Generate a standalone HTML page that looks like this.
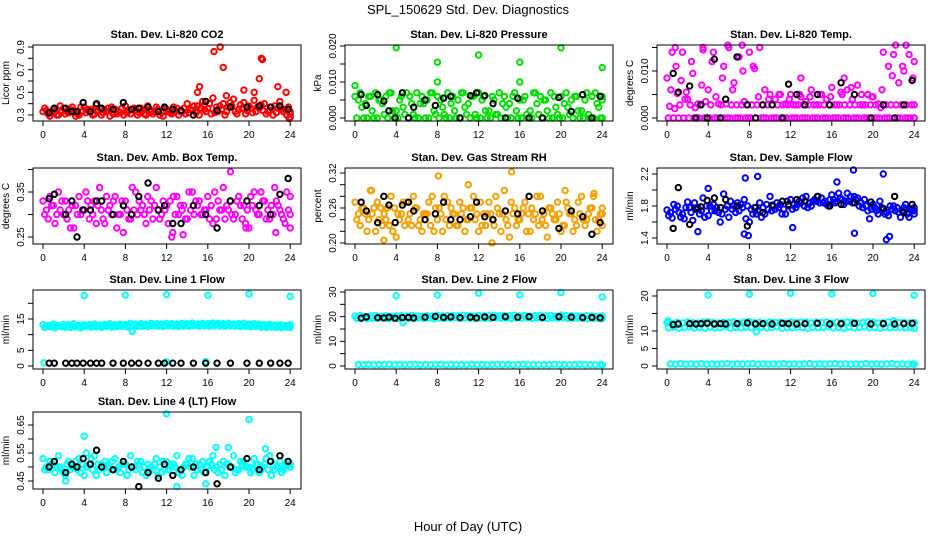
<!DOCTYPE html>
<html><head><meta charset="utf-8">
<style>
html,body{margin:0;padding:0;background:#fff;}
svg{display:block;font-family:"Liberation Sans",Arial,sans-serif;}
</style></head>
<body>
<svg id="chart" width="936" height="540" viewBox="0 0 936 540" xmlns="http://www.w3.org/2000/svg">
<rect width="936" height="540" fill="#fff"/>
<text x="468" y="14" text-anchor="middle" font-size="13">SPL_150629  Std. Dev. Diagnostics</text>
<text x="468" y="531" text-anchor="middle" font-size="13">Hour of Day (UTC)</text>
</svg>
<script>
const halfHours=[0,0.5,1,1.5,2,2.5,3,3.5,4,4.5,5,5.5,6,6.5,7,7.5,8,8.5,9,9.5,10,10.5,11,11.5,12,12.5,13,13.5,14,14.5,15,15.5,16,16.5,17,17.5,18,18.5,19,19.5,20,20.5,21,21.5,22,22.5,23,23.5,24];
const blackHours=[0.6,1.1,2.2,2.8,3.3,3.9,4.6,5.2,5.7,6.8,7.8,8.6,9.3,10.2,11.2,11.8,12.6,13.4,14.6,15.8,16.9,18.2,19.8,21.0,22.1,23.0,23.8];
const xTicks=[0,4,8,12,16,20,24];

// CO2
const co2A=[0.33,0.31,0.35,0.30,0.36,0.32,0.34,0.30,0.37,0.33,0.31,0.36,0.34,0.29,0.35,0.32,0.38,0.31,0.34,0.36,0.30,0.33,0.37,0.32,0.35,0.31,0.36,0.33,0.40,0.34,0.38,0.42,0.36,0.45,0.33,0.40,0.37,0.44,0.35,0.41,0.38,0.43,0.36,0.40,0.34,0.38,0.42,0.35,0.33];
const co2B=[0.36,0.29,0.33,0.38,0.31,0.35,0.29,0.37,0.32,0.35,0.39,0.30,0.33,0.37,0.31,0.36,0.32,0.35,0.30,0.34,0.38,0.31,0.35,0.29,0.33,0.37,0.30,0.36,0.32,0.38,0.30,0.35,0.40,0.32,0.38,0.30,0.41,0.33,0.39,0.31,0.36,0.33,0.39,0.31,0.37,0.32,0.35,0.30,0.28];
const co2C=[0.34,0.32,0.30,0.34,0.33,0.37,0.31,0.33,0.35,0.30,0.34,0.32,0.36,0.31,0.33,0.30,0.34,0.36,0.32,0.31,0.35,0.33,0.30,0.36,0.32,0.34,0.33,0.31,0.35,0.32,0.36,0.33,0.31,0.37,0.35,0.33,0.38,0.31,0.36,0.34,0.32,0.37,0.34,0.33,0.30,0.36,0.33,0.37,0.31];
const co2OutX=[15.2,15.0,16.6,17.2,17.5,17.8,19.5,20.5,21.0,21.2,21.3,22.8,23.6,23.9];
const co2OutY=[0.55,0.50,0.86,0.90,0.72,0.47,0.52,0.50,0.62,0.80,0.79,0.55,0.50,0.27];
const co2Black=[0.32,0.36,0.36,0.33,0.33,0.41,0.33,0.40,0.36,0.35,0.41,0.35,0.36,0.37,0.33,0.37,0.35,0.34,0.30,0.42,0.34,0.37,0.37,0.38,0.37,0.38,0.35];
// Pressure
const presA=[0.006,0.007,0.004,0.006,0.007,0.005,0.006,0.007,0.002,0.006,0.007,0.004,0.007,0.006,0.005,0.007,0.006,0.003,0.007,0.006,0.005,0.007,0.004,0.006,0.007,0.006,0.002,0.005,0.007,0.006,0.004,0.007,0.005,0.006,0.002,0.007,0.006,0.005,0.007,0.003,0.006,0.007,0.005,0.006,0.002,0.007,0.006,0.004,0.006];
const presB=[0,0.003,0,0.002,0,0.004,0,0.002,0,0.003,0,0.001,0,0.004,0,0.002,0,0.001,0,0.002,0,0.003,0,0.001,0,0.002,0,0.001,0,0.003,0,0.002,0,0.001,0,0.004,0,0.002,0,0.001,0,0.003,0,0.002,0,0.001,0,0.003,0];
const presC=[0.005,0,0.006,0,0.005,0.001,0.007,0,0.005,0.001,0.006,0,0.004,0,0.007,0.001,0.005,0,0.004,0,0.007,0.001,0.006,0,0.005,0,0.006,0.001,0.004,0,0.006,0,0.005,0,0.007,0.001,0.005,0,0.006,0,0.004,0.001,0.006,0,0.005,0,0.007,0,0.005];
const presOutX=[0,4,8,8,12,16,16,20,24];
const presOutY=[0.009,0.0195,0.0155,0.010,0.0175,0.0155,0.010,0.0195,0.014];
const presBlack=[0.0065,0.0035,0.0065,0.0047,0.0020,0.0000,0.0070,0.0000,0.0030,0.0050,0.0035,0.0055,0.0060,0.0000,0.0062,0.0070,0.0062,0.0040,0.0000,0.0055,0.0000,0.0000,0.0057,0.0018,0.0065,0.0000,0.0060];
// Li-820 temp
const tempA=[0.0085,0.0140,0.0052,0.0140,0.0040,0.0095,0.0030,0.0145,0.0060,0.0140,0.0030,0.0110,0.0150,0.0075,0.0130,0.0035,0.0140,0.0105,0.0150,0.0060,0.0050,0.0040,0.0050,0.0030,0.0050,0.0028,0.0045,0.0035,0.0060,0.0028,0.0050,0.0040,0.0065,0.0028,0.0050,0.0060,0.0040,0.0070,0.0028,0.0050,0.0045,0.0030,0.0140,0.0110,0.0135,0.0075,0.0100,0.0135,0.0120];
const tempZero=[0,0,0,0,0,0,0,0,0,0,0,0,0,0,0,0,0,0,0,0,0,0,0,0,0,0,0,0,0,0,0,0,0,0,0,0,0,0,0,0,0,0,0,0,0,0,0,0,0];
const tempBand=[0.0025,0.0020,0.0028,0.0040,0.0028,0.0022,0.0028,0.0035,0.0028,0.0045,0.0028,0.0030,0.0028,0.0028,0.0028,0.0028,0.0028,0.0028,0.0028,0.0028,0.0028,0.0028,0.0028,0.0028,0.0028,0.0028,0.0028,0.0028,0.0028,0.0028,0.0028,0.0028,0.0028,0.0028,0.0028,0.0028,0.0028,0.0028,0.0028,0.0028,0.0028,0.0022,0.0028,0.0028,0.0028,0.0028,0.0028,0.0028,0.0028];
const tempC=[0.0060,0.0110,0.0080,0.0055,0.0120,0.0000,0.0070,0.0000,0.0120,0.0000,0.0085,0.0000,0.0060,0.0000,0.0100,0.0000,0.0110,0.0045,0.0000,0.0040,0.0000,0.0050,0.0000,0.0040,0.0000,0.0050,0.0000,0.0045,0.0000,0.0050,0.0000,0.0045,0.0000,0.0055,0.0000,0.0065,0.0000,0.0050,0.0000,0.0045,0.0000,0.0060,0.0000,0.0090,0.0000,0.0110,0.0000,0.0085,0.0000];
const tempOutX=[5.9,7.3,13.0,17.2,22.2,23.2,0.8,3.5];
const tempOutY=[0.0155,0.0155,0.0085,0.0085,0.0155,0.0155,0.0150,0.0150];
const tempBlack=[0.0095,0.0055,0.0068,0.0000,0.0028,0.0000,0.0125,0.0000,0.0040,0.0130,0.0028,0.0000,0.0028,0.0028,0.0000,0.0072,0.0050,0.0028,0.0050,0.0028,0.0075,0.0050,0.0000,0.0028,0.0000,0.0028,0.0080];
// Amb box temp
const ambA=[0.33,0.29,0.32,0.35,0.30,0.31,0.27,0.34,0.31,0.29,0.33,0.36,0.28,0.32,0.34,0.30,0.33,0.29,0.35,0.31,0.28,0.33,0.36,0.30,0.32,0.25,0.34,0.31,0.29,0.35,0.32,0.30,0.34,0.28,0.33,0.36,0.31,0.29,0.34,0.32,0.27,0.35,0.30,0.33,0.29,0.36,0.31,0.28,0.34];
const ambB=[0.30,0.34,0.28,0.31,0.33,0.27,0.32,0.30,0.35,0.32,0.28,0.31,0.34,0.30,0.27,0.33,0.31,0.36,0.30,0.32,0.34,0.29,0.31,0.33,0.28,0.34,0.30,0.32,0.35,0.30,0.33,0.31,0.29,0.35,0.31,0.29,0.33,0.30,0.32,0.28,0.34,0.31,0.35,0.29,0.32,0.33,0.30,0.35,0.27];
const ambC=[0.31,0.32,0.30,0.33,0.29,0.32,0.30,0.31,0.33,0.30,0.32,0.29,0.31,0.33,0.30,0.32,0.29,0.31,0.33,0.30,0.31,0.32,0.29,0.31,0.33,0.30,0.32,0.29,0.31,0.33,0.30,0.31,0.32,0.29,0.31,0.32,0.30,0.33,0.29,0.31,0.32,0.30,0.33,0.31,0.30,0.32,0.29,0.31,0.30];
const ambOutX=[18.2,7.8,13.6,22.6,12.6,19.7];
const ambOutY=[0.395,0.26,0.255,0.26,0.26,0.27];
const ambBlack=[0.335,0.345,0.30,0.33,0.25,0.31,0.31,0.33,0.33,0.30,0.32,0.30,0.34,0.37,0.31,0.32,0.28,0.28,0.32,0.30,0.27,0.33,0.33,0.32,0.30,0.345,0.38];
// Gas stream RH
const rhA=[0.27,0.23,0.25,0.29,0.22,0.26,0.24,0.28,0.21,0.25,0.27,0.23,0.26,0.22,0.25,0.28,0.24,0.22,0.27,0.25,0.23,0.26,0.24,0.28,0.22,0.25,0.27,0.23,0.25,0.29,0.21,0.26,0.24,0.27,0.22,0.25,0.28,0.23,0.26,0.24,0.22,0.27,0.25,0.23,0.28,0.24,0.26,0.22,0.25];
const rhB=[0.24,0.26,0.22,0.25,0.27,0.23,0.26,0.22,0.25,0.27,0.24,0.28,0.23,0.25,0.27,0.22,0.26,0.28,0.23,0.25,0.27,0.22,0.26,0.24,0.27,0.23,0.25,0.28,0.22,0.24,0.27,0.23,0.25,0.22,0.26,0.28,0.24,0.21,0.25,0.27,0.23,0.26,0.22,0.27,0.24,0.25,0.28,0.24,0.26];
const rhC=[0.25,0.26,0.24,0.26,0.24,0.25,0.23,0.26,0.24,0.23,0.25,0.26,0.24,0.25,0.23,0.26,0.25,0.24,0.26,0.23,0.25,0.24,0.26,0.25,0.23,0.25,0.24,0.26,0.25,0.23,0.25,0.24,0.26,0.25,0.24,0.23,0.25,0.26,0.24,0.25,0.23,0.25,0.24,0.25,0.23,0.26,0.24,0.25,0.23];
const rhOutX=[8.1,11.0,15.2,1.6,20.4,23.2,13.3,2.8];
const rhOutY=[0.315,0.30,0.322,0.29,0.29,0.285,0.20,0.205];
const rhBlack=[0.27,0.255,0.235,0.28,0.265,0.235,0.265,0.27,0.255,0.24,0.25,0.27,0.24,0.24,0.245,0.27,0.245,0.24,0.255,0.25,0.28,0.255,0.225,0.255,0.245,0.215,0.235];
// Sample flow
const flowA=[1.75,1.65,1.80,1.70,1.85,1.62,1.78,1.90,1.68,1.82,1.72,1.95,1.66,1.80,1.74,1.88,1.60,1.78,1.84,1.70,1.92,1.76,1.82,1.70,1.88,1.78,1.84,1.92,1.80,1.86,1.90,1.82,1.94,1.86,1.88,1.96,1.84,1.90,1.78,1.74,1.82,1.70,1.76,1.68,1.80,1.72,1.78,1.66,1.74];
const flowB=[1.68,1.82,1.72,1.64,1.78,1.84,1.70,1.66,1.80,1.74,1.60,1.76,1.86,1.72,1.82,1.64,1.76,1.70,1.66,1.82,1.74,1.84,1.70,1.86,1.76,1.82,1.90,1.78,1.86,1.92,1.84,1.80,1.88,1.96,1.82,1.86,1.92,1.80,1.88,1.64,1.78,1.86,1.70,1.80,1.74,1.66,1.82,1.76,1.70];
const flowC=[1.72,1.76,1.66,1.78,1.72,1.76,1.74,1.80,1.74,1.78,1.70,1.80,1.76,1.84,1.78,1.80,1.70,1.74,1.78,1.76,1.80,1.78,1.76,1.80,1.82,1.86,1.80,1.84,1.88,1.84,1.86,1.88,1.84,1.90,1.86,1.92,1.88,1.84,1.80,1.76,1.74,1.78,1.72,1.76,1.78,1.74,1.70,1.76,1.78];
const flowOutX=[3.0,7.5,7.6,8.8,18.1,18.2,21.0,21.3,7.9,21.6,16.5,4.0,12.2];
const flowOutY=[1.48,1.45,2.15,2.17,2.25,1.46,2.20,1.38,1.43,1.42,2.10,2.02,1.53];
const flowBlack=[1.52,2.03,1.57,1.77,1.79,1.87,1.90,1.78,1.88,1.80,1.55,1.78,1.72,1.81,1.86,1.82,1.88,1.86,1.92,1.80,1.82,1.84,1.85,1.77,1.92,1.72,1.82];
// Line 1 flow
const l1A=[13.2,13.0,13.4,12.9,13.3,13.1,13.5,13.0,13.3,13.2,13.4,13.1,13.3,13.5,13.2,13.4,13.3,13.6,13.4,13.5,13.3,13.6,13.5,13.4,13.6,13.5,13.4,13.6,13.5,13.7,13.4,13.6,13.5,13.7,13.6,13.5,13.6,13.4,13.5,13.6,13.3,13.5,13.4,13.2,13.3,13.1,13.2,13.0,13.2];
const l1B=[12.3,12.5,12.2,12.6,12.4,12.3,12.5,12.2,12.6,12.4,12.5,12.3,12.6,12.4,12.5,12.7,12.5,11.0,12.6,12.7,12.6,12.8,12.7,12.6,12.8,12.7,12.6,12.8,12.7,12.9,12.7,12.8,12.7,12.9,12.8,12.7,12.8,12.7,12.6,12.7,12.5,12.6,12.4,12.3,12.4,12.3,12.2,12.4,12.3];
const l1C=[12.8,12.7,12.9,12.6,12.8,12.7,12.9,12.7,12.8,12.9,12.7,12.8,13.0,12.8,12.9,13.0,12.9,13.1,12.9,13.0,13.1,13.0,13.1,13.0,13.2,13.1,13.0,13.2,13.1,13.2,13.1,13.2,13.1,13.3,13.2,13.1,13.2,13.1,13.0,13.1,12.9,13.0,12.9,12.8,12.9,12.8,12.7,12.8,12.7];
const l1OutX=[4,8,12,16,20,24,0.1,12.0,15.8];
const l1OutY=[22.5,22.6,22.8,22.6,23.0,22.2,1.0,1.3,1.4];
const l1Black=[0.9,0.9,0.9,0.9,0.9,0.9,0.9,0.9,0.9,0.9,0.9,0.9,0.9,0.9,0.9,0.9,0.9,0.9,0.9,0.9,0.9,0.9,0.9,0.9,0.9,0.9,0.9];
// Line 2 flow
const l2A=[20.2,20.4,20.1,20.3,20.5,20.2,20.4,20.1,20.3,20.4,20.2,20.5,20.3,20.1,20.4,20.2,20.6,20.3,20.4,20.5,20.3,20.6,20.4,20.2,20.5,20.3,20.4,20.6,20.3,20.5,20.4,20.6,20.3,20.5,20.2,20.4,20.6,20.3,20.5,20.2,20.7,20.4,20.5,20.3,20.2,20.4,20.3,20.1,20.3];
const l2B=[19.3,19.5,19.2,19.4,19.3,19.5,19.2,19.4,19.3,17.6,19.4,19.2,19.5,19.3,19.4,19.2,19.5,19.3,19.4,19.6,19.3,19.5,19.4,19.3,19.5,19.4,19.3,19.6,19.4,19.5,19.3,19.5,19.4,19.6,19.3,19.5,19.4,19.3,19.5,19.4,19.6,19.3,19.4,19.5,19.3,19.2,19.4,19.3,19.2];
const l2Zero=[0.6,0.5,0.7,0.5,0.6,0.5,0.7,0.5,0.6,0.5,0.6,0.7,0.5,0.6,0.5,0.6,0.7,0.5,0.6,0.5,0.6,0.5,0.7,0.5,0.6,0.5,0.6,0.7,0.5,0.6,0.5,0.6,0.7,0.5,0.6,0.5,0.6,0.5,0.7,0.5,0.6,0.5,0.6,0.7,0.5,0.6,0.5,0.6,0.5];
const l2OutX=[4,8,12,16,20,24];
const l2OutY=[28.5,28.8,29.5,28.8,29.8,28.0];
const l2Black=[19.4,19.9,19.6,19.5,19.8,19.4,19.6,19.7,19.5,19.8,20.1,19.7,19.9,19.6,19.8,19.5,19.9,19.7,20.0,19.8,20.0,19.7,20.0,19.8,19.6,19.7,19.5];
// Line 3 flow
const l3A=[12.4,12.2,12.5,12.3,12.6,12.4,12.3,12.5,12.6,12.4,12.3,12.5,12.4,12.6,12.3,12.5,12.7,12.4,12.5,12.3,12.6,12.4,12.5,12.3,12.6,12.4,12.5,12.6,12.3,12.5,12.4,12.6,12.3,12.5,12.4,12.6,12.5,12.3,12.4,12.6,12.5,12.3,12.4,12.6,12.9,12.4,12.5,12.3,12.4];
const l3B=[10.9,11.1,10.8,11.0,11.2,10.9,11.0,10.8,11.1,10.9,11.0,11.2,10.8,11.0,10.9,11.1,11.0,9.8,11.1,10.9,11.0,11.2,10.8,11.0,10.9,11.1,11.0,10.8,11.1,10.9,11.0,11.2,10.9,11.0,10.8,11.1,10.9,11.0,11.2,10.9,11.0,10.8,11.1,10.9,11.0,11.1,10.9,11.0,10.8];
const l3Zero=[0.6,0.5,0.7,0.5,0.6,0.5,0.7,0.5,0.6,0.5,0.6,0.7,0.5,0.6,0.5,0.6,0.7,0.5,0.6,0.5,0.6,0.5,0.7,0.5,0.6,0.5,0.6,0.7,0.5,0.6,0.5,0.6,0.7,0.5,0.6,0.5,0.6,0.5,0.7,0.5,0.6,0.5,0.6,0.7,0.5,0.6,0.5,0.6,0.5];
const l3OutX=[4,8,12,16,20,24,0.1];
const l3OutY=[20.3,20.5,20.8,20.6,20.7,20.2,12.9];
const l3Black=[11.8,12.0,12.1,12.0,12.1,12.2,12.0,12.1,12.0,12.1,12.3,12.0,12.1,12.0,12.2,12.1,12.0,12.1,12.2,12.0,12.1,12.2,12.0,12.1,12.0,12.1,12.2];
// Line 4 flow
const l4A=[0.53,0.49,0.51,0.54,0.48,0.52,0.50,0.53,0.47,0.51,0.54,0.49,0.52,0.50,0.53,0.48,0.51,0.54,0.49,0.52,0.47,0.50,0.53,0.48,0.52,0.50,0.54,0.47,0.51,0.53,0.49,0.52,0.50,0.54,0.48,0.52,0.51,0.54,0.49,0.52,0.50,0.53,0.48,0.51,0.54,0.49,0.52,0.50,0.51];
const l4B=[0.49,0.52,0.48,0.50,0.47,0.49,0.52,0.48,0.50,0.53,0.47,0.51,0.48,0.52,0.49,0.51,0.47,0.50,0.52,0.48,0.51,0.49,0.47,0.52,0.49,0.51,0.48,0.50,0.53,0.47,0.51,0.48,0.52,0.49,0.51,0.47,0.50,0.48,0.52,0.50,0.48,0.51,0.49,0.53,0.47,0.50,0.48,0.51,0.50];
const l4C=[0.50,0.51,0.50,0.49,0.51,0.50,0.49,0.51,0.50,0.49,0.51,0.50,0.51,0.49,0.50,0.51,0.49,0.50,0.51,0.50,0.49,0.51,0.50,0.49,0.51,0.50,0.49,0.51,0.50,0.51,0.49,0.50,0.51,0.50,0.49,0.51,0.50,0.49,0.51,0.50,0.49,0.51,0.50,0.49,0.51,0.50,0.49,0.51,0.50];
const l4OutX=[4,12,20,2.2,13.0,15.8,16.8,18.0,21.6,4.2];
const l4OutY=[0.61,0.69,0.67,0.45,0.43,0.44,0.57,0.57,0.565,0.55];
const l4Black=[0.50,0.52,0.48,0.51,0.50,0.53,0.51,0.56,0.50,0.49,0.52,0.50,0.43,0.48,0.46,0.51,0.47,0.49,0.50,0.48,0.44,0.50,0.53,0.49,0.52,0.54,0.52];

const CYAN='#00ffff', RED='#ff0000', GREEN='#00dd00', MAG='#ff00ff', ORANGE='#f4a000', BLUE='#0000ff';
const panels=[
 {name:'co2',title:'Stan. Dev. Li-820 CO2',ylab:'Licor ppm',col:0,row:0,ref:[0.3,115,0.9,47],ticks:[0.3,0.4,0.5,0.6,0.7,0.8,0.9],labels:['0.3','','0.5','','0.7','','0.9'],color:RED,series:[co2A,co2B,co2C],outX:co2OutX,outY:co2OutY,black:co2Black},
 {name:'pressure',title:'Stan. Dev. Li-820 Pressure',ylab:'kPa',col:1,row:0,ref:[0,118,0.02,46],ticks:[0,0.005,0.01,0.015,0.02],labels:['0.000','','0.010','','0.020'],color:GREEN,series:[presA,presB,presC],outX:presOutX,outY:presOutY,black:presBlack},
 {name:'li820-temp',title:'Stan. Dev. Li-820 Temp.',ylab:'degrees C',col:2,row:0,ref:[0,118,0.01,71],ticks:[0,0.005,0.01,0.015],labels:['0.000','','0.010',''],color:MAG,series:[tempA,tempZero,tempBand,tempC],outX:tempOutX,outY:tempOutY,black:tempBlack},
 {name:'amb-box-temp',title:'Stan. Dev. Amb. Box Temp.',ylab:'degrees C',col:0,row:1,ref:[0.25,237,0.35,192],ticks:[0.25,0.30,0.35,0.40],labels:['0.25','','0.35',''],color:MAG,series:[ambA,ambB,ambC],outX:ambOutX,outY:ambOutY,black:ambBlack},
 {name:'gas-stream-rh',title:'Stan. Dev. Gas Stream RH',ylab:'percent',col:1,row:1,ref:[0.20,243,0.32,173],ticks:[0.20,0.22,0.24,0.26,0.28,0.30,0.32],labels:['0.20','','','0.26','','','0.32'],color:ORANGE,series:[rhA,rhB,rhC],outX:rhOutX,outY:rhOutY,black:rhBlack},
 {name:'sample-flow',title:'Stan. Dev. Sample Flow',ylab:'ml/min',col:2,row:1,ref:[1.4,238,2.2,174],ticks:[1.4,1.6,1.8,2.0,2.2],labels:['1.4','','1.8','','2.2'],color:BLUE,series:[flowA,flowB,flowC],outX:flowOutX,outY:flowOutY,black:flowBlack},
 {name:'line1-flow',title:'Stan. Dev. Line 1 Flow',ylab:'ml/min',col:0,row:2,ref:[0,366,15,319],ticks:[0,5,10,15,20],labels:['0','5','','15',''],color:CYAN,series:[l1A,l1B,l1C],outX:l1OutX,outY:l1OutY,black:l1Black},
 {name:'line2-flow',title:'Stan. Dev. Line 2 Flow',ylab:'ml/min',col:1,row:2,ref:[0,366,30,292],ticks:[0,5,10,15,20,25,30],labels:['0','','10','','20','','30'],color:CYAN,series:[l2A,l2B,l2Zero],outX:l2OutX,outY:l2OutY,black:l2Black},
 {name:'line3-flow',title:'Stan. Dev. Line 3 Flow',ylab:'ml/min',col:2,row:2,ref:[0,366,20,296],ticks:[0,5,10,15,20],labels:['0','5','10','','20'],color:CYAN,series:[l3A,l3B,l3Zero],outX:l3OutX,outY:l3OutY,black:l3Black},
 {name:'line4-lt-flow',title:'Stan. Dev. Line 4 (LT) Flow',ylab:'ml/min',col:0,row:3,ref:[0.45,481,0.65,425],ticks:[0.45,0.50,0.55,0.60,0.65],labels:['0.45','','0.55','','0.65'],color:CYAN,series:[l4A,l4B,l4C],outX:l4OutX,outY:l4OutY,black:l4Black}
];
const colX0=[43,355,667], hourPx=10.3;
const rowTop=[45,168,290,412], rowBot=[121,244,369,489];
const NS='http://www.w3.org/2000/svg';
const svg=document.getElementById('chart');
function mk(tag,attrs,parent){const e=document.createElementNS(NS,tag);for(const k in attrs)e.setAttribute(k,attrs[k]);parent.appendChild(e);return e;}

panels.forEach(p=>{
  const x0=colX0[p.col], top=rowTop[p.row], bot=rowBot[p.row];
  const left=x0-10, right=x0+258;
  const xs=h=>x0+h*hourPx;
  const [v1,p1,v2,p2]=p.ref;
  const ys=v=>p1+(v-v1)*(p2-p1)/(v2-v1);
  const g=mk('g',{},svg);
  
  
  const t=mk('text',{x:(left+right)/2,y:top-7,'text-anchor':'middle','font-size':'11','font-weight':'bold'},g);
  t.textContent=p.title;
  
  
  const yl=mk('text',{x:0,y:0,'text-anchor':'middle','font-size':'10',transform:`translate(${left-24},${(top+bot)/2}) rotate(-90)`},g);
  yl.textContent=p.ylab;
  
  
  const pts=mk('g',{fill:'none','stroke-width':'2'},g);
  
  
  const n=p.series.length;
  p.series.forEach((vals,si)=>{
    vals.forEach((v,i)=>{
      const c=mk('circle',{cx:xs(Math.min(24,halfHours[i]+si*0.5/n)),cy:ys(v),r:2.7,stroke:p.color},pts);
      
      
    });
  });
  p.outX.forEach((h,i)=>{
    const c=mk('circle',{cx:xs(h),cy:ys(p.outY[i]),r:2.7,stroke:p.color},pts);
    
    
  });
  p.black.forEach((v,i)=>{
    const c=mk('circle',{cx:xs(blackHours[i]),cy:ys(v),r:2.7,stroke:'#000'},pts);
    
    
  });
  const b=mk('rect',{x:left,y:top,width:right-left,height:bot-top,fill:'none',stroke:'#000','stroke-width':'1'},g);
  
  
  xTicks.forEach(h=>{
    mk('line',{x1:xs(h),x2:xs(h),y1:bot,y2:bot+5,stroke:'#000'},g);
    const tl=mk('text',{x:xs(h),y:bot+17,'text-anchor':'middle','font-size':'10'},g);
    tl.textContent=String(h);
    
    
  });
  p.ticks.forEach((v,i)=>{
    mk('line',{x1:left-5,x2:left,y1:ys(v),y2:ys(v),stroke:'#000'},g);
    if(p.labels[i]){
      const tl=mk('text',{x:0,y:0,'text-anchor':'middle','font-size':'10',transform:`translate(${left-9},${ys(v)}) rotate(-90)`},g);
      tl.textContent=p.labels[i];
      
      
    }
  });
});
</script>
</body></html>
